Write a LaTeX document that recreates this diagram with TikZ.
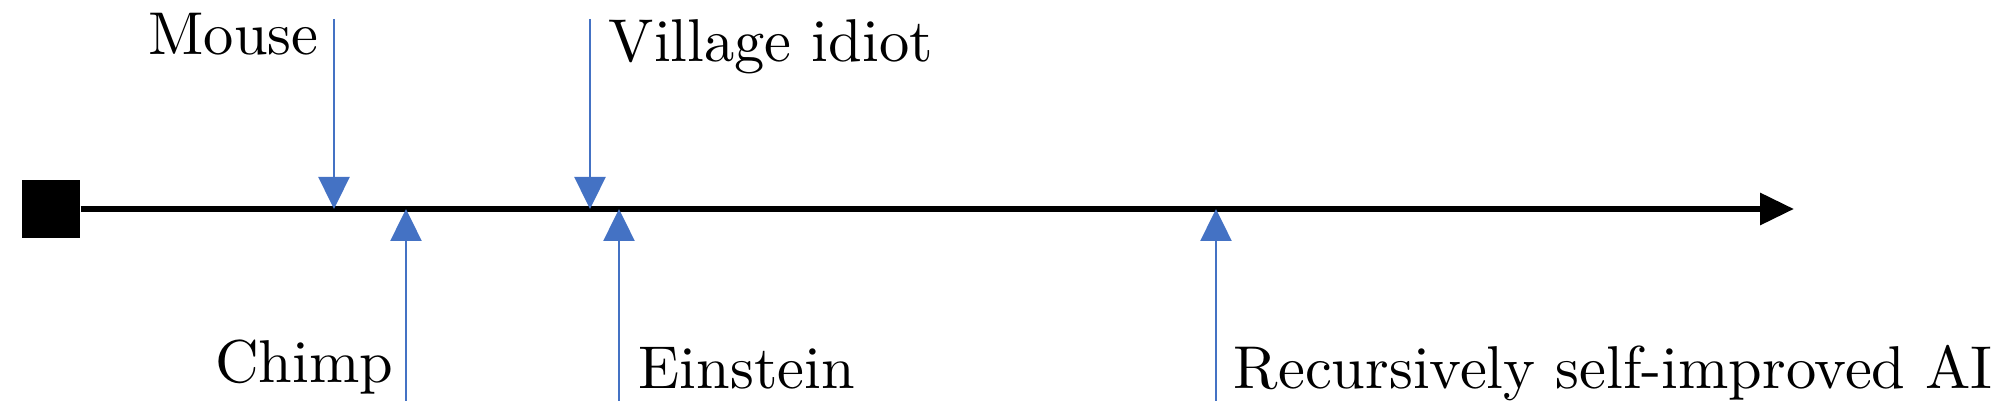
\documentclass[tikz,border=0pt]{standalone}
\usepackage{tikz}
\usetikzlibrary{arrows.meta, positioning}
\definecolor{markblue}{RGB}{68,114,196}
\newcommand{\marktext}[1]{\scalebox{1.72}{#1}}

\begin{document}
\begin{tikzpicture}
	\tikzstyle{label_style}=[inner sep=0pt, font=\fontsize{10}{12}\selectfont]
	\tikzstyle{mark_style}=[draw=markblue, line width=0.7pt, -{Triangle[length=3.2mm, width=3.1mm]}]
	\useasboundingbox (0,0) rectangle (20.14,4.16);
	% axis
	\node at (0.51,2.07) [fill, minimum size=5.8mm, inner sep=0pt] (origin) {};
	\coordinate (axis_end) at (17.94,2.07);
	\draw[line width=1.8pt, -{Triangle[length=3.4mm, width=3.1mm]}] (origin.east) -- (axis_end);
	% marks above the axis
	\foreach \x/\who in {3.34/mouse, 5.90/idiot}{
		\coordinate (\who_top) at (\x, 3.97);
		\coordinate (\who_axis) at (\x, 2.07);
		\draw[mark_style] (\who_top) -- (\who_axis);
	}
	% marks below the axis
	\foreach \x/\who in {4.06/chimp, 6.19/einstein, 12.16/ai}{
		\coordinate (\who_bottom) at (\x, 0.15);
		\coordinate (\who_axis) at (\x, 2.07);
		\draw[mark_style] (\who_bottom) -- (\who_axis);
	}
	% labels
	\node at (3.19,3.61) [label_style, anchor=base east] (mouse) {\marktext{Mouse}};
	\node at (6.08,3.54) [label_style, anchor=base west] (idiot) {\marktext{Village idiot}};
	\node at (3.94,0.33) [label_style, anchor=base east] (chimp) {\marktext{Chimp}};
	\node at (6.38,0.27) [label_style, anchor=base west] (einstein) {\marktext{Einstein}};
	\node at (12.33,0.27) [label_style, anchor=base west] (ai) {\marktext{Recursively self-improved AI}};
\end{tikzpicture}
\end{document}
